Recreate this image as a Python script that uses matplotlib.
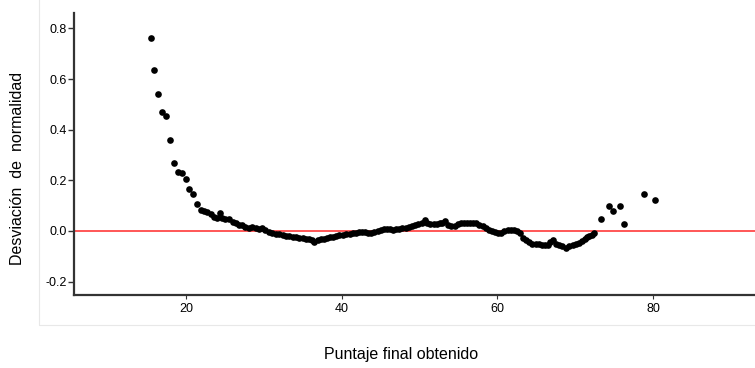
import numpy as np
import matplotlib
matplotlib.use("Agg")
import matplotlib.pyplot as plt
from matplotlib.patches import Rectangle

plt.rcParams['font.family'] = ['Liberation Sans', 'DejaVu Sans']

# puntos (puntaje, desviacion)
puntaje = [15.5, 15.9, 16.4, 16.9, 17.4, 17.9, 18.45, 18.9, 19.45, 19.95, 20.4, 20.9,
           21.4, 21.9, 22.3, 22.75, 23.2, 23.6, 24.0, 24.3, 24.6, 25.0, 25.5, 26.0,
           26.4, 26.8, 27.2, 27.6, 28.1, 28.5, 29.0, 29.4, 29.8, 30.2, 30.7, 31.1,
           31.5, 32.0, 32.4, 32.8, 33.2, 33.7, 34.1, 34.5, 35.0, 35.4, 35.8, 36.2,
           36.5, 36.9, 37.3, 37.7, 38.1, 38.5, 38.9, 39.3, 39.7, 40.1, 40.5, 41.0,
           41.4, 41.8, 42.2, 42.6, 43.0, 43.4, 43.8, 44.2, 44.6, 45.0, 45.4, 45.8,
           46.2, 46.6, 47.0, 47.4, 47.8, 48.2, 48.6, 49.0, 49.4, 49.8, 50.3, 50.7,
           51.0, 51.4, 51.8, 52.2, 52.6, 52.9, 53.3, 53.7, 54.1, 54.5, 54.9, 55.3,
           55.7, 56.1, 56.5, 56.9, 57.3, 57.7, 58.1, 58.5, 58.9, 59.3, 59.7, 60.1,
           60.5, 60.9, 61.3, 61.7, 62.1, 62.5, 62.9, 63.3, 63.7, 64.1, 64.5, 64.9,
           65.3, 65.7, 66.1, 66.5, 66.8, 67.1, 67.5, 67.9, 68.3, 68.8, 69.2, 69.7,
           70.1, 70.5, 70.9, 71.2, 71.5, 71.8, 72.1, 72.4,
           73.3, 74.3, 74.8, 75.8, 76.3, 78.8, 80.3]
desviacion = [0.762, 0.636, 0.540, 0.469, 0.453, 0.361, 0.269, 0.233, 0.227, 0.204, 0.167, 0.145,
              0.108, 0.082, 0.078, 0.075, 0.066, 0.055, 0.050, 0.069, 0.050, 0.046, 0.049, 0.037,
              0.030, 0.025, 0.022, 0.017, 0.013, 0.014, 0.011, 0.009, 0.010, 0.003, -0.004, -0.008,
              -0.011, -0.014, -0.017, -0.018, -0.021, -0.023, -0.025, -0.026, -0.028, -0.031, -0.033, -0.036,
              -0.043, -0.034, -0.033, -0.030, -0.028, -0.025, -0.023, -0.020, -0.017, -0.015, -0.013, -0.011,
              -0.009, -0.007, -0.005, -0.005, -0.006, -0.007, -0.008, -0.004, 0.001, 0.005, 0.007, 0.006,
              0.006, 0.005, 0.006, 0.006, 0.010, 0.013, 0.016, 0.019, 0.022, 0.026, 0.030, 0.042,
              0.030, 0.028, 0.026, 0.028, 0.030, 0.030, 0.040, 0.022, 0.018, 0.020, 0.026, 0.030,
              0.032, 0.032, 0.032, 0.032, 0.030, 0.025, 0.019, 0.012, 0.003, -0.002, -0.005, -0.010,
              -0.008, 0.000, 0.003, 0.003, 0.002, 0.000, -0.010, -0.027, -0.037, -0.045, -0.050, -0.050,
              -0.052, -0.054, -0.056, -0.057, -0.045, -0.034, -0.050, -0.057, -0.060, -0.067, -0.060, -0.054,
              -0.050, -0.047, -0.038, -0.030, -0.025, -0.021, -0.015, -0.008,
              0.046, 0.098, 0.079, 0.099, 0.026, 0.144, 0.124]

yticks = [-0.2, 0.0, 0.2, 0.4, 0.6, 0.8]
xticks = [20, 40, 60, 80]

fig = plt.figure(figsize=(7.55, 3.68), dpi=100)

# marco gris claro de fondo (sin borde superior ni derecho visibles)
fig.patches.append(Rectangle((39 / 755, 1 - 325 / 368), 1, 325 / 368 + 0.05,
                             transform=fig.transFigure, fill=False,
                             edgecolor='#e8e8e8', linewidth=0.8))

ax = fig.add_axes([74 / 755, 1 - 295 / 368, 1 - 74 / 755, (295 - 12.7) / 368])
ax.axhline(0, color='#ff3a3a', linewidth=1.2, zorder=1)
ax.plot(puntaje, desviacion, 'o', color='black', markersize=4.8, markeredgewidth=0, zorder=2)

ax.set_xlim(5.6, 93.1)
ax.set_ylim(-0.253, 0.862)
ax.set_xticks(xticks)
ax.set_yticks(yticks)
ax.set_yticklabels(['%.1f' % v for v in yticks])

for s in ['top', 'right']:
    ax.spines[s].set_visible(False)
for s in ['left', 'bottom']:
    ax.spines[s].set_color('#333333')
    ax.spines[s].set_linewidth(1.6)
ax.tick_params(axis='y', direction='out', length=4, width=1, color='#333333', labelsize=9, pad=1)
ax.tick_params(axis='x', direction='out', length=3, width=0.8, color='#333333', labelsize=9, pad=3)

fig.text(18 / 755, 1 - 168 / 368, 'Desviación  de  normalidad', rotation=90,
         ha='center', va='center', fontsize=11.5)
fig.text(401 / 755, 1 - 355 / 368, 'Puntaje final obtenido', ha='center', va='center', fontsize=11.5)

fig.savefig('out.png', dpi=100)
